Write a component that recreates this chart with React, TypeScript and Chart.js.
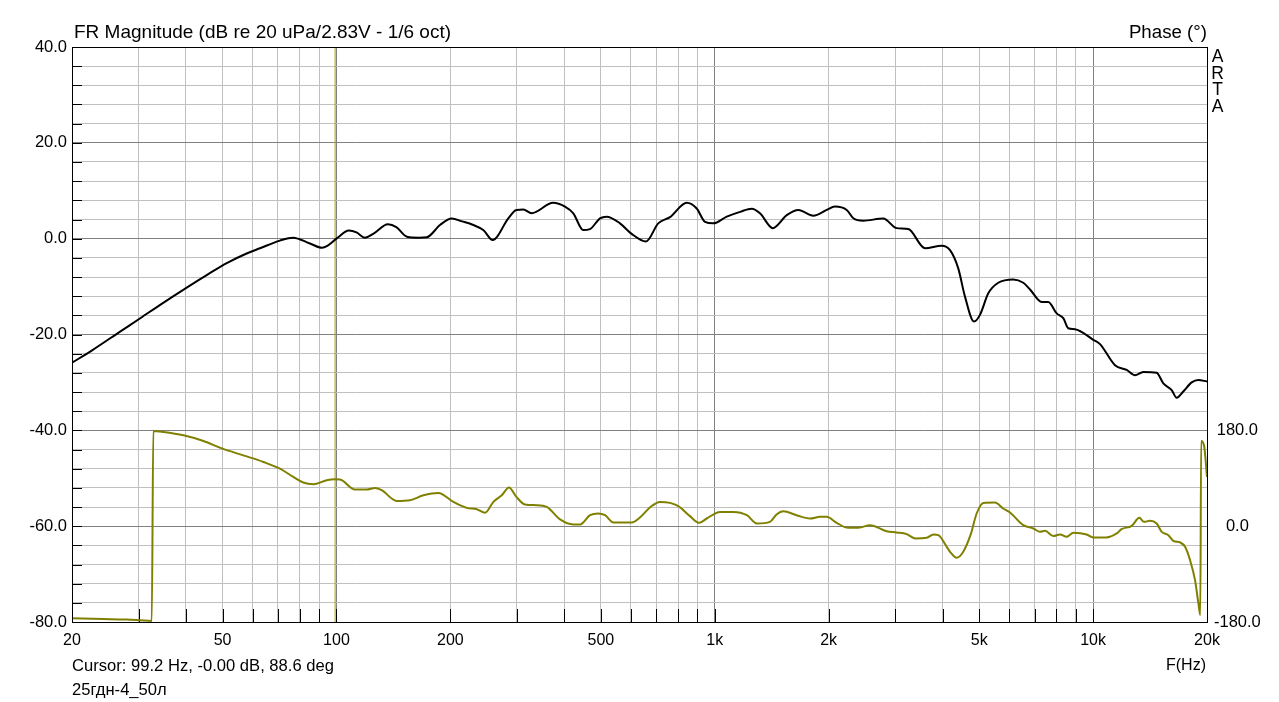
import React, { useEffect, useRef } from 'react';
import { Chart, registerables } from 'chart.js';

Chart.register(...registerables);

// ---- data ----
const magFreq = [
  20, 22.7, 26.8, 30.3, 34.2, 40.2, 45.4, 51.3, 57.9, 62.8, 70.9, 76.8, 85.1, 91.6, 94.6,
  100, 107.9, 113, 119, 125, 136.8, 144, 153.6, 165, 173.5, 187.8, 201.7, 215, 230, 244.4,
  258.8, 284.6, 299, 311.9, 328, 374, 401.8, 422.7, 449, 467.8, 497.3, 517.6, 561.6, 602.9,
  657.7, 709, 761.6, 843.1, 895.9, 942.3, 991, 1075.5, 1166.5, 1252, 1316.9, 1423, 1549.7,
  1662.9, 1822.5, 1976, 2078, 2232, 2324, 2469, 2789, 3025, 3247, 3596, 3978, 4186, 4401,
  4585, 4844, 5023, 5284, 5614, 6152, 6538, 6812, 7312, 7613, 8012, 8341, 8598, 8956,
  10010, 10429, 11425, 12264, 12900, 13570, 14725, 15330, 16130, 16630, 17310, 18220,
  18970, 20000,
];
const magDb = [
  -25.9, -23.2, -19.4, -16.6, -13.8, -10.2, -7.6, -5.1, -3.1, -2.0, -0.4, 0.2, -1.0, -1.9, -1.5,
  0.0, 1.7, 1.3, 0.2, 1.0, 3.0, 2.4, 0.4, 0.2, 0.3, 2.85, 4.2, 3.6, 2.85, 1.8,
  -0.3, 4.25, 6.0, 6.1, 5.3, 7.5, 6.7, 5.3, 1.8, 2.0, 4.25, 4.6, 3.2, 1.0,
  -0.6, 3.2, 4.5, 7.5, 6.3, 3.5, 3.2, 4.6, 5.6, 6.25, 5.3, 2.2, 4.9,
  6.0, 4.8, 6.0, 6.7, 6.0, 4.25, 3.75, 4.2, 2.2, 2.0, -2.0, -1.5, -2.4, -6.2,
  -12.1, -17.3, -15.9, -11.4, -9.2, -8.5, -9.2, -10.6, -13.2, -13.2, -15.6, -16.6, -18.7, -18.9,
  -21.1, -22.0, -26.4, -27.4, -28.5, -27.8, -28.0, -30.2, -31.6, -33.2, -31.9, -30.0,
  -29.5, -29.8,
];

const phaseFreq = [
  20, 24.2, 27.9, 30.3, 32.5, 32.8, 34.9, 39.4, 44.5, 50, 56.7, 64.1, 70.9, 76.9, 81.7,
  86.9, 94.2, 99.1, 102.2, 111.9, 120.2, 126.5, 131.7, 144.3, 156.5, 169.8, 185.9, 203.8,
  221, 235, 247, 259.9, 273.5, 285.8, 299, 315, 338, 359.6, 390, 423, 440.3, 468, 492,
  512.7, 539.3, 603, 634, 676, 716, 761.6, 801, 860, 910, 952, 1033, 1119.6, 1216, 1292,
  1399.6, 1456, 1518.5, 1644, 1785.6, 1897, 1976, 2100, 2254, 2420, 2571, 2847, 3024,
  3216, 3383, 3632, 3785, 3899, 4103, 4186, 4358, 4537, 4750, 4922, 5128, 5502, 5788,
  6030, 6535, 6951, 7243, 7463, 7852, 8177, 8515, 8870, 9614, 10000, 10840, 11545, 11890,
  12649, 13250, 13629, 14137, 14720, 15185, 15810, 16300, 16990, 17500, 18040, 18590,
  18980, 19200, 19300, 19650, 20000,
];
const phaseDeg = [
  -173, -174.4, -175.5, -176.8, -178, 178.7, 176.8, 170.6, 160, 145.6, 133, 120.6, 108, 92.5, 82,
  78.8, 86.2, 88, 87.5, 68.8, 68.8, 71.8, 67.5, 47.5, 48.8, 58.1, 62.5, 45.6,
  34.4, 31.9, 25, 45.6, 58.1, 72.5, 55, 40.7, 39.4, 36.2, 12.6, 3.2, 3.2, 20.6, 23.8,
  20.6, 7, 7, 16.3, 36, 45.6, 43.7, 37.5, 18.8, 6.2, 14.4, 26.8, 26.8, 20.6, 5,
  8.1, 22, 28.1, 20.6, 14.4, 17.5, 17.5, 6.2, -3.2, -2.5, 1.9, -9.4, -11.8,
  -15, -23.1, -21.9, -15.6, -16.9, -38.8, -48.1, -59.4, -48.1, -15, 23.8, 43.7, 44.4, 33.2,
  25.7, 1.9, -4.4, -10.6, -8.8, -18.7, -15.6, -20, -12.5, -15.6, -21.2, -21.2, -13.7, -5.6,
  0.6, 15.6, 8.1, 10, 5, -10.6, -16.9, -27.5, -30.6, -38.8, -63.8, -101,
  -145, -167, 160, 151, 92.5,
];

const cursorFreq = 99.2;

const freqGrid = [
  20, 30, 40, 50, 60, 70, 80, 90, 100, 200, 300, 400, 500, 600, 700, 800, 900, 1000,
  2000, 3000, 4000, 5000, 6000, 7000, 8000, 9000, 10000, 20000,
];
const freqMajor = [100, 1000, 10000];
const freqLabelValues = [20, 50, 100, 200, 500, 1000, 2000, 5000, 10000, 20000];
const freqLabels = ['20', '50', '100', '200', '500', '1k', '2k', '5k', '10k', '20k'];

const dbMin = -80;
const dbMax = 40;
const dbGridStep = 4;
const dbLabelValues = [-80, -60, -40, -20, 0, 20, 40];
const dbLabels = ['-80.0', '-60.0', '-40.0', '-20.0', '0.0', '20.0', '40.0'];

const phaseMin = -180;
const phaseMax = 900;
const phaseLabelValues = [-180, 0, 180];
const phaseLabels = ['-180.0', '0.0', '180.0'];

const FONT = "'Liberation Sans', Arial, sans-serif";
const MINOR = '#c0c0c0';
const MAJOR = '#808080';

const dbGrid: number[] = [];
for (let v = dbMin; v <= dbMax; v += dbGridStep) dbGrid.push(v);

const innerTicksPlugin = {
  id: 'innerTicks',
  beforeDatasetsDraw(chart: any) {
    const { ctx, chartArea } = chart;
    const xs = chart.scales.x;
    const ys = chart.scales.y;
    ctx.save();
    ctx.strokeStyle = '#000';
    ctx.lineWidth = 1;
    ctx.beginPath();
    dbGrid.forEach((v) => {
      if (v === dbMin || v === dbMax) return;
      const py = Math.round(ys.getPixelForValue(v)) + 0.5;
      ctx.moveTo(chartArea.left, py);
      ctx.lineTo(chartArea.left + 10, py);
    });
    freqGrid.forEach((f) => {
      if (f === 20 || f === 20000) return;
      const px = Math.round(xs.getPixelForValue(f)) + 0.5;
      ctx.moveTo(px, chartArea.bottom);
      ctx.lineTo(px, chartArea.bottom - 13);
    });
    ctx.stroke();
    ctx.restore();
  },
  afterDraw(chart: any) {
    const { ctx, chartArea } = chart;
    ctx.save();
    ctx.strokeStyle = '#000';
    ctx.lineWidth = 1;
    ctx.strokeRect(
      Math.round(chartArea.left) + 0.5,
      Math.round(chartArea.top) + 0.5,
      Math.round(chartArea.right) - Math.round(chartArea.left),
      Math.round(chartArea.bottom) - Math.round(chartArea.top)
    );
    ctx.restore();
  },
};

export default function App() {
  const canvasRef = useRef<HTMLCanvasElement | null>(null);

  useEffect(() => {
    const canvas = canvasRef.current;
    if (!canvas) return;
    const magData = magFreq.map((f, i) => ({ x: f, y: magDb[i] }));
    const phaseData = phaseFreq.map((f, i) => ({ x: f, y: phaseDeg[i] }));
    const cursorData = [
      { x: cursorFreq, y: dbMin },
      { x: cursorFreq, y: dbMax },
    ];

    const chart = new Chart(canvas, {
      type: 'line',
      data: {
        datasets: [
          {
            label: 'Magnitude',
            data: magData,
            yAxisID: 'y',
            borderColor: '#000000',
            borderWidth: 2,
            pointRadius: 0,
            cubicInterpolationMode: 'monotone',
            fill: false,
          },
          {
            label: 'Phase',
            data: phaseData,
            yAxisID: 'y2',
            borderColor: '#808000',
            borderWidth: 2,
            pointRadius: 0,
            cubicInterpolationMode: 'monotone',
            fill: false,
          },
          {
            label: 'Cursor',
            data: cursorData,
            yAxisID: 'y',
            borderColor: '#a4a400',
            borderWidth: 1,
            pointRadius: 0,
            fill: false,
          },
        ],
      } as any,
      options: {
        responsive: false,
        animation: false,
        devicePixelRatio: 1,
        parsing: false,
        layout: { padding: { top: 47, left: 0, right: 0, bottom: 0 } },
        plugins: {
          legend: { display: false },
          tooltip: { enabled: false },
          title: { display: false },
        },
        scales: {
          x: {
            type: 'logarithmic',
            min: 20,
            max: 20000,
            afterBuildTicks: (s: any) => {
              s.ticks = freqGrid.map((v) => ({ value: v }));
            },
            afterFit: (s: any) => {
              s.height = 80;
            },
            ticks: {
              autoSkip: false,
              maxRotation: 0,
              minRotation: 0,
              padding: 9,
              color: '#000',
              font: { family: FONT, size: 16 },
              callback: (v: any) => {
                const i = freqLabelValues.indexOf(Number(v));
                return i >= 0 ? freqLabels[i] : '';
              },
            },
            grid: {
              drawTicks: false,
              lineWidth: 1,
              color: (c: any) =>
                c.tick && freqMajor.indexOf(c.tick.value) >= 0 ? MAJOR : MINOR,
            },
            border: { display: false },
          },
          y: {
            type: 'linear',
            position: 'left',
            min: dbMin,
            max: dbMax,
            afterBuildTicks: (s: any) => {
              s.ticks = dbGrid.map((v) => ({ value: v }));
            },
            afterFit: (s: any) => {
              s.width = 72;
            },
            ticks: {
              autoSkip: false,
              padding: 5,
              color: '#000',
              font: { family: FONT, size: 16.5 },
              callback: (v: any) => {
                const i = dbLabelValues.indexOf(Number(v));
                return i >= 0 ? dbLabels[i] : '';
              },
            },
            grid: {
              drawTicks: false,
              lineWidth: 1,
              color: (c: any) =>
                c.tick && dbLabelValues.indexOf(c.tick.value) >= 0 ? MAJOR : MINOR,
            },
            border: { display: false },
          },
          y2: {
            type: 'linear',
            position: 'right',
            min: phaseMin,
            max: phaseMax,
            afterBuildTicks: (s: any) => {
              s.ticks = phaseLabelValues.map((v) => ({ value: v }));
            },
            afterFit: (s: any) => {
              s.width = 72;
            },
            ticks: {
              autoSkip: false,
              padding: 7,
              crossAlign: 'center',
              color: '#000',
              font: { family: FONT, size: 16.5 },
              callback: (v: any) => {
                const i = phaseLabelValues.indexOf(Number(v));
                return i >= 0 ? phaseLabels[i] : '';
              },
            },
            grid: { drawOnChartArea: false, drawTicks: false },
            border: { display: false },
          },
        },
      } as any,
      plugins: [innerTicksPlugin],
    });

    return () => {
      chart.destroy();
    };
  }, []);

  const textBase: React.CSSProperties = {
    position: 'absolute',
    fontFamily: FONT,
    color: '#000',
    whiteSpace: 'nowrap',
  };

  return (
    <div
      style={{
        position: 'fixed',
        left: 0,
        top: 0,
        width: 1279,
        height: 702,
        background: '#ffffff',
        overflow: 'hidden',
      }}
    >
      <canvas
        ref={canvasRef}
        width={1279}
        height={702}
        style={{ position: 'absolute', left: 0, top: 0, width: 1279, height: 702, display: 'block' }}
      />
      <div style={{ ...textBase, left: 74, top: 22, fontSize: 19, lineHeight: '20px' }}>
        FR Magnitude (dB re 20 uPa/2.83V - 1/6 oct)
      </div>
      <div
        style={{ ...textBase, right: 72, top: 22, fontSize: 18.7, lineHeight: '20px', textAlign: 'right' }}
      >
        Phase (°)
      </div>
      <div
        style={{
          ...textBase,
          left: 1207,
          top: 48,
          width: 21,
          fontSize: 17.5,
          lineHeight: '16.7px',
          textAlign: 'center',
          whiteSpace: 'normal',
        }}
      >
        {['A', 'R', 'T', 'A'].map((ch, i) => (
          <div key={i}>{ch}</div>
        ))}
      </div>
      <div style={{ ...textBase, left: 72, top: 657, fontSize: 16.6, lineHeight: '18px' }}>
        Cursor: 99.2 Hz, -0.00 dB, 88.6 deg
      </div>
      <div style={{ ...textBase, left: 72, top: 681, fontSize: 16.6, lineHeight: '18px' }}>
        25гдн-4_50л
      </div>
      <div
        style={{ ...textBase, right: 73, top: 656, fontSize: 16, lineHeight: '18px', textAlign: 'right' }}
      >
        F(Hz)
      </div>
    </div>
  );
}
